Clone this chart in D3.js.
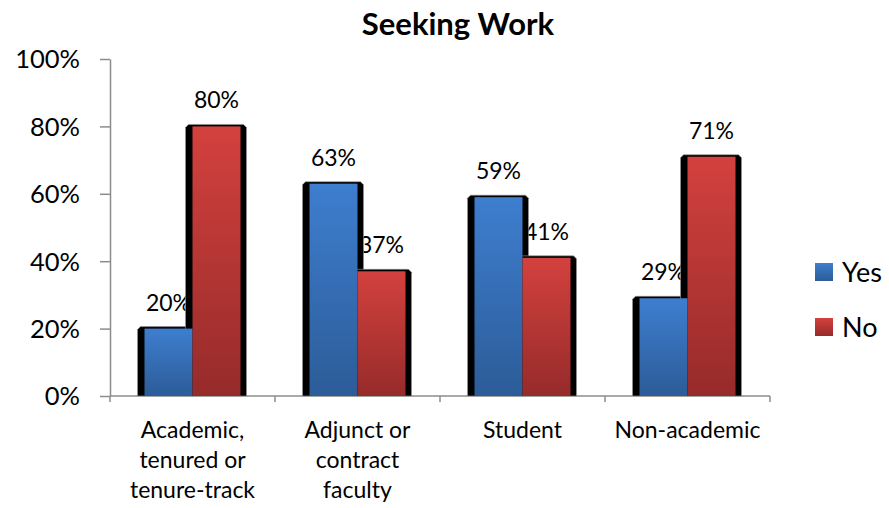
<!DOCTYPE html>
<html>
<head>
<meta charset="utf-8">
<script src="https://cdn.jsdelivr.net/npm/d3@7"></script>
<style>
  body { margin: 0; background: #fff; }
  text { font-family: Lato, "Open Sans", sans-serif; fill: #000; }
  .axis path, .axis line { stroke: #8c8c8c; stroke-width: 1.5px; }
  .axis text { font-size: 25.5px; }
</style>
</head>
<body>
<div id="chart-area"></div>
<script>
// data
const categories = ["Academic, tenured or tenure-track", "Adjunct or contract faculty", "Student", "Non-academic"];
const categoryLines = [["Academic,", "tenured or", "tenure-track"], ["Adjunct or", "contract", "faculty"], ["Student"], ["Non-academic"]];
const series = ["Yes", "No"];
const yesValues = [0.20, 0.63, 0.59, 0.29];
const noValues = [0.80, 0.37, 0.41, 0.71];
const yTicks = [0, 0.2, 0.4, 0.6, 0.8, 1.0];
const title = "Seeking Work";

/* graphical constants */
const W = 889, H = 508;
const plot = { left: 110, right: 770, top: 59, bottom: 396 };
const BAR_W = 48;
const SIDE_L = 7, SIDE_R = 6, SIDE_T = 2, CHAMFER = 3;

const svg = d3.select("#chart-area")
    .append("svg")
    .attr("width", W)
    .attr("height", H);

const defs = svg.append("defs");
const grads = { Yes: ["#3e7ecf", "#2c5c98"], No: ["#d3413e", "#962b2a"] };
series.forEach(s => {
    const lg = defs.append("linearGradient")
        .attr("id", "grad-" + s)
        .attr("x1", 0).attr("y1", 0).attr("x2", 0).attr("y2", 1);
    lg.append("stop").attr("offset", "0%").attr("stop-color", grads[s][0]);
    lg.append("stop").attr("offset", "100%").attr("stop-color", grads[s][1]);
});

// scales
const x = d3.scaleBand()
    .domain(categories)
    .range([plot.left, plot.right]);

const x1 = d3.scaleBand()
    .domain(series)
    .range([0, BAR_W * 2]);

const y = d3.scaleLinear()
    .domain([0, 1])
    .range([plot.bottom, plot.top]);

// title
svg.append("text")
    .attr("x", 458)
    .attr("y", 35)
    .attr("text-anchor", "middle")
    .style("font-size", "31px")
    .style("font-weight", "bold")
    .text(title);

// Y axis
svg.append("g")
    .attr("class", "axis")
    .attr("transform", "translate(" + plot.left + ",0)")
    .call(d3.axisLeft(y)
        .tickValues(yTicks)
        .tickFormat(d3.format(".0%"))
        .tickSize(10)
        .tickSizeOuter(0)
        .tickPadding(20))
    .selectAll("text")
    .attr("dy", "0.35em");

// X axis: baseline plus ticks at category boundaries
const xAxis = svg.append("g").attr("class", "axis");
xAxis.append("line")
    .attr("x1", plot.left).attr("x2", plot.right)
    .attr("y1", y(0)).attr("y2", y(0));
const boundaries = categories.map(c => x(c)).concat([x.range()[1]]);
xAxis.selectAll("line.tick")
    .data(boundaries)
    .enter().append("line")
    .attr("class", "tick")
    .attr("x1", d => d).attr("x2", d => d)
    .attr("y1", y(0)).attr("y2", y(0) + 6);

// category labels
categories.forEach((c, i) => {
    const t = svg.append("text")
        .attr("text-anchor", "middle")
        .attr("y", 438)
        .style("font-size", "23px");
    categoryLines[i].forEach((line, j) => {
        t.append("tspan")
            .attr("x", x(c) + x.bandwidth() / 2)
            .attr("y", 438 + j * 30)
            .text(line);
    });
});

// bar data
const bars = [];
categories.forEach((c, i) => {
    bars.push({ cat: c, s: "Yes", v: yesValues[i] });
    bars.push({ cat: c, s: "No", v: noValues[i] });
});
const barX = d => x(d.cat) + x.bandwidth() / 2 - BAR_W + x1(d.s);

const groups = svg.selectAll("g.group")
    .data(categories)
    .enter().append("g")
    .attr("class", "group");

groups.each(function (c) {
    const g = d3.select(this);
    const gBars = bars.filter(b => b.cat === c);

    // data labels sit behind the columns
    g.selectAll("text.label")
        .data(gBars)
        .enter().append("text")
        .attr("class", "label")
        .attr("x", d => barX(d) + BAR_W / 2)
        .attr("y", d => y(d.v) - 18)
        .attr("text-anchor", "middle")
        .style("font-size", "23px")
        .text(d => Math.round(d.v * 100) + "%");

    // black sides
    g.selectAll("path.side")
        .data(gBars)
        .enter().append("path")
        .attr("class", "side")
        .attr("fill", "#000")
        .attr("stroke", "#999")
        .attr("stroke-width", 0.6)
        .attr("d", d => {
            const x0 = barX(d) - SIDE_L, xe = barX(d) + BAR_W + SIDE_R;
            const top = y(d.v) - SIDE_T, base = y(0);
            return "M" + x0 + "," + base +
                "L" + x0 + "," + (top + CHAMFER) +
                "L" + (x0 + CHAMFER) + "," + top +
                "L" + (xe - CHAMFER) + "," + top +
                "L" + xe + "," + (top + CHAMFER) +
                "L" + xe + "," + base + "Z";
        });

    // front faces
    g.selectAll("rect.front")
        .data(gBars)
        .enter().append("rect")
        .attr("class", "front")
        .attr("x", d => barX(d))
        .attr("y", d => y(d.v))
        .attr("width", BAR_W)
        .attr("height", d => y(0) - y(d.v))
        .attr("fill", d => "url(#grad-" + d.s + ")");
});

// legend
const legend = svg.selectAll("g.legend")
    .data(series)
    .enter().append("g")
    .attr("class", "legend")
    .attr("transform", (d, i) => "translate(815," + (263 + i * 55) + ")");
legend.append("rect")
    .attr("width", 18).attr("height", 18)
    .attr("fill", d => "url(#grad-" + d + ")");
legend.append("text")
    .attr("x", 27)
    .attr("y", 19)
    .style("font-size", "27px")
    .text(d => d);
</script>
</body>
</html>
